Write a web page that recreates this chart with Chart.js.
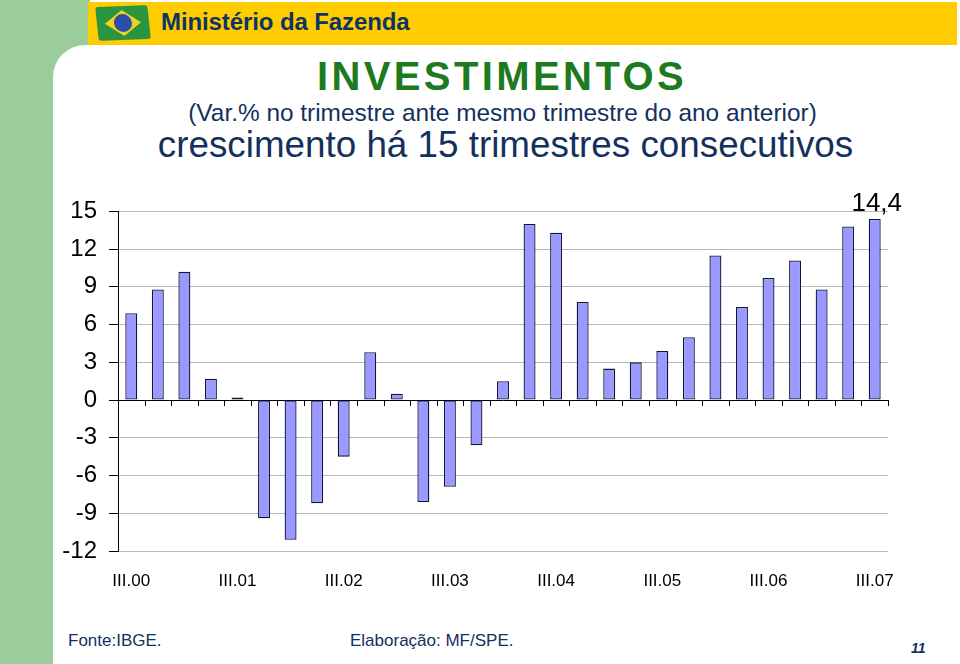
<!DOCTYPE html>
<html>
<head>
<meta charset="utf-8">
<script src="https://cdn.jsdelivr.net/npm/chart.js@4/dist/chart.umd.min.js"></script>
<style>
  html, body { margin: 0; padding: 0; }
  body { width: 960px; height: 664px; position: relative; overflow: hidden; background: #ffffff;
         font-family: "Liberation Sans", Arial, sans-serif; }
  .abs { position: absolute; }
  #greenTop { left: 0; top: 0; width: 90px; height: 80px; background: #9ACD9A; }
  #greenLeft { left: 0; top: 0; width: 53px; height: 664px; background: #9ACD9A; }
  #panel { left: 53px; top: 45px; width: 907px; height: 619px; background: #fff; border-top-left-radius: 32px; }
  #header { left: 88px; top: 2px; width: 869px; height: 43px; background: #FFCC00; }
  #hdrText { left: 161px; top: 8px; font-size: 24px; font-weight: bold; color: #0E3462; white-space: nowrap; letter-spacing: -0.1px; }
  #flag { left: 97px; top: 6px; width: 52px; height: 34px; background: #2A9440; transform: rotate(-6deg) skewY(4deg); border-radius: 3px; }
  #flag .dia { position: absolute; left: 8px; top: 4px; width: 36px; height: 26px; background: #F2D21C;
               clip-path: polygon(50% 0, 100% 50%, 50% 100%, 0 50%); }
  #flag .ball { position: absolute; left: 17px; top: 8px; width: 18px; height: 18px; border-radius: 50%; background: #2B4FA8; }
  #title { left: 0; width: 1004px; top: 54px; text-align: center; font-size: 40px; font-weight: bold; color: #1E7A1E; letter-spacing: 3.4px; }
  #sub1 { left: 0; width: 1005px; top: 99px; text-align: center; font-size: 24.4px; color: #13315C; white-space: nowrap; }
  #sub2 { left: 0; width: 1011px; top: 124px; text-align: center; font-size: 36.8px; color: #13315C; white-space: nowrap; }
  #fonte { left: 68px; top: 631px; font-size: 17px; color: #13315C; }
  #elab { left: 350px; top: 631px; font-size: 17px; color: #13315C; }
  #page { left: 911px; top: 640px; font-size: 14px; font-weight: bold; font-style: italic; color: #13315C; }
  #wrap { left: 40px; top: 185px; width: 880px; height: 410px; }
</style>
</head>
<body>
<div class="abs" id="greenTop"></div>
<div class="abs" id="greenLeft"></div>
<div class="abs" id="panel"></div>
<div class="abs" id="header"></div>
<div class="abs" id="flag"><div class="dia"></div><div class="ball"></div></div>
<div class="abs" id="hdrText">Ministério da Fazenda</div>
<div class="abs" id="title">INVESTIMENTOS</div>
<div class="abs" id="sub1">(Var.% no trimestre ante mesmo trimestre do ano anterior)</div>
<div class="abs" id="sub2">crescimento há 15 trimestres consecutivos</div>
<div class="abs" id="wrap"><canvas id="c" width="880" height="410"></canvas></div>
<div class="abs" id="fonte">Fonte:IBGE.</div>
<div class="abs" id="elab">Elaboração: MF/SPE.</div>
<div class="abs" id="page">11</div>
<script>
const quarters = ['III.00','IV.00','I.01','II.01','III.01','IV.01','I.02','II.02','III.02','IV.02',
                  'I.03','II.03','III.03','IV.03','I.04','II.04','III.04','IV.04','I.05','II.05',
                  'III.05','IV.05','I.06','II.06','III.06','IV.06','I.07','II.07','III.07'];
const investimentos = [6.9, 8.8, 10.2, 1.7, 0.2, -9.4, -11.1, -8.2, -4.5, 3.8,
                       0.5, -8.1, -6.9, -3.6, 1.5, 14.0, 13.3, 7.8, 2.5, 3.0,
                       3.9, 5.0, 11.5, 7.4, 9.7, 11.1, 8.8, 13.8, 14.4];
const yTicks = [-12, -9, -6, -3, 0, 3, 6, 9, 12, 15];
const labelledIndex = investimentos.length - 1;

const FONT = '"Liberation Sans", Arial, sans-serif';

const extras = {
  id: 'extras',
  afterDatasetsDraw(chart) {
    const ctx = chart.ctx;
    const xs = chart.scales.x, ys = chart.scales.y;
    const y0 = ys.getPixelForValue(0);
    const n = quarters.length;
    const step = (xs.right - xs.left) / n;
    ctx.save();
    ctx.strokeStyle = '#000';
    ctx.lineWidth = 1;
    ctx.beginPath();
    for (let i = 1; i <= n; i++) {
      const x = Math.round(xs.left + i * step) + 0.5;
      ctx.moveTo(x, y0);
      ctx.lineTo(x, y0 + 6);
    }
    ctx.stroke();
    const bar = chart.getDatasetMeta(0).data[labelledIndex];
    ctx.fillStyle = '#000';
    ctx.font = '26px ' + FONT;
    ctx.textAlign = 'center';
    ctx.textBaseline = 'alphabetic';
    ctx.fillText(investimentos[labelledIndex].toFixed(1).replace('.', ','), bar.x + 2, bar.y - 8);
    ctx.restore();
  }
};

new Chart(document.getElementById('c'), {
  type: 'bar',
  data: {
    labels: quarters,
    datasets: [{
      data: investimentos,
      backgroundColor: '#9999FF',
      borderColor: '#14143A',
      borderWidth: 1.3,
      borderSkipped: false,
      barPercentage: 0.45,
      categoryPercentage: 1.0
    }]
  },
  options: {
    responsive: false,
    animation: false,
    layout: { padding: { top: 6, right: 32, left: 0, bottom: 0 } },
    plugins: { legend: { display: false }, tooltip: { enabled: false }, title: { display: false } },
    scales: {
      x: {
        grid: { display: false, drawTicks: false },
        border: { display: false },
        ticks: {
          autoSkip: false, maxRotation: 0, minRotation: 0, padding: 20,
          color: '#000', font: { family: FONT, size: 17 },
          callback: function(v, i) { return quarters[i].startsWith('III.') ? quarters[i] : ''; }
        },
        afterFit: function(s) { s.height = 44; }
      },
      y: {
        min: -12, max: 15,
        afterBuildTicks: function(s) { s.ticks = yTicks.map(v => ({ value: v })); },
        grid: {
          color: function(c) { return c.tick && c.tick.value === 0 ? '#000' : '#B8B8B8'; },
          lineWidth: 1,
          tickColor: '#000',
          tickLength: 9
        },
        border: { display: true, color: '#000', width: 1 },
        ticks: { padding: 12, color: '#000', font: { family: FONT, size: 24 } },
        afterFit: function(s) { s.width = 78; }
      }
    }
  },
  plugins: [extras]
});
</script>
</body>
</html>
